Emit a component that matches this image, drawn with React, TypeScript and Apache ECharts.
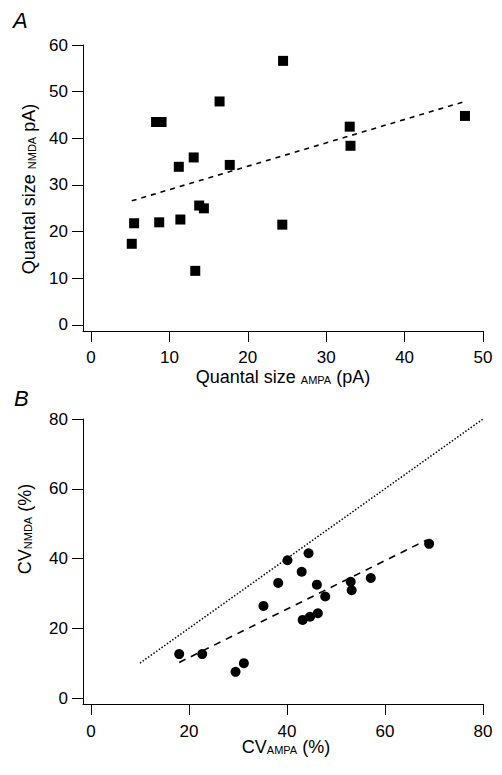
import React, { useEffect, useRef } from 'react';
import * as echarts from 'echarts';

// Panel A: quantal sizes (pA)
const quantalAmpa = [5.2, 5.5, 8.3, 9.0, 8.7, 11.2, 11.4, 13.1, 13.3, 13.8, 14.4, 16.4, 17.7, 24.5, 24.4, 33.0, 33.1, 47.7];
const quantalNmda = [17.4, 21.8, 43.5, 43.5, 22.0, 33.9, 22.6, 35.9, 11.6, 25.6, 25.0, 47.9, 34.3, 56.6, 21.5, 42.5, 38.4, 44.8];
const fitAX = [5.2, 47.5];
const fitAY = [26.6, 47.8];

// Panel B: coefficients of variation (%)
const cvAmpa = [18.0, 22.7, 29.5, 31.2, 35.2, 38.2, 40.1, 43.0, 44.4, 43.2, 44.7, 46.3, 46.1, 47.8, 53.0, 53.2, 57.1, 69.0];
const cvNmda = [12.6, 12.6, 7.5, 10.0, 26.4, 33.0, 39.5, 36.2, 41.5, 22.4, 23.3, 24.3, 32.5, 29.1, 33.3, 30.9, 34.4, 44.2];
const identityX = [10, 80];
const identityY = [10, 80];
const fitBX = [18.0, 68.5];
const fitBY = [10.2, 45.3];

// Tick labels
const ticksAX = [0, 10, 20, 30, 40, 50];
const ticksAY = [0, 10, 20, 30, 40, 50, 60];
const ticksBX = [0, 20, 40, 60, 80];
const ticksBY = [0, 20, 40, 60, 80];

const FONT = 'Liberation Sans, Arial, Helvetica, sans-serif';

const pairs = (xs: number[], ys: number[]) => xs.map((x, i) => [x, ys[i]]);

const makeAxis = (gridIndex: number, min: number, max: number, ticks: number[], margin: number) => ({
  type: 'value',
  gridIndex,
  min,
  max,
  splitLine: { show: false },
  axisLine: { show: true, onZero: false, lineStyle: { color: '#000', width: 1 } },
  axisTick: { show: true, inside: false, length: 11, customValues: ticks, lineStyle: { color: '#000', width: 1 } },
  axisLabel: {
    show: true,
    customValues: ticks,
    margin,
    color: '#000',
    fontFamily: FONT,
    fontSize: 17,
    formatter: (v: number) => String(v),
  },
});

const richStyles = {
  n: { fontSize: 18, lineHeight: 17, fontFamily: FONT, fill: '#000', color: '#000' },
  s: { fontSize: 11, lineHeight: 6, fontFamily: FONT, fill: '#000', color: '#000', verticalAlign: 'bottom' },
};

const titleText = (x: number, y: number, text: string, rotation = 0) => ({
  type: 'text',
  x,
  y,
  rotation,
  style: {
    text,
    rich: richStyles,
    fill: '#000',
    fontFamily: FONT,
    fontSize: 18,
    align: 'center',
    verticalAlign: 'middle',
    textAlign: 'center',
    textVerticalAlign: 'middle',
  },
});

const panelLetter = (x: number, y: number, text: string) => ({
  type: 'text',
  x,
  y,
  style: {
    text,
    fill: '#000',
    font: 'italic 22px ' + FONT,
    align: 'left',
    verticalAlign: 'top',
  },
});

export default function App() {
  const ref = useRef<HTMLDivElement>(null);

  useEffect(() => {
    document.body.style.margin = '0';
    if (!ref.current) return;
    const chart = echarts.init(ref.current, undefined, { renderer: 'svg' });
    chart.setOption({
      animation: false,
      backgroundColor: '#fff',
      grid: [
        { left: 83, top: 45, width: 400, height: 286 },
        { left: 83, top: 419, width: 400, height: 285 },
      ],
      xAxis: [makeAxis(0, -1.02, 50, ticksAX, 18), makeAxis(1, -1.63, 80, ticksBX, 19)],
      yAxis: [makeAxis(0, -1.29, 60, ticksAY, 15), makeAxis(1, -1.72, 80, ticksBY, 15)],
      series: [
        {
          type: 'scatter',
          xAxisIndex: 0,
          yAxisIndex: 0,
          symbol: 'rect',
          symbolSize: 10,
          itemStyle: { color: '#000', opacity: 1 },
          data: pairs(quantalAmpa, quantalNmda),
        },
        {
          type: 'line',
          xAxisIndex: 0,
          yAxisIndex: 0,
          showSymbol: false,
          symbol: 'none',
          lineStyle: { color: '#000', width: 1.6, type: [5, 5] },
          data: pairs(fitAX, fitAY),
        },
        {
          type: 'line',
          xAxisIndex: 1,
          yAxisIndex: 1,
          showSymbol: false,
          symbol: 'none',
          lineStyle: { color: '#000', width: 1.5, type: [1.5, 1.8] },
          data: pairs(identityX, identityY),
        },
        {
          type: 'line',
          xAxisIndex: 1,
          yAxisIndex: 1,
          showSymbol: false,
          symbol: 'none',
          lineStyle: { color: '#000', width: 1.6, type: [7, 6] },
          data: pairs(fitBX, fitBY),
        },
        {
          type: 'scatter',
          xAxisIndex: 1,
          yAxisIndex: 1,
          symbol: 'circle',
          symbolSize: 10,
          itemStyle: { color: '#000', opacity: 1 },
          data: pairs(cvAmpa, cvNmda),
        },
      ],
      graphic: [
        panelLetter(13, 9, 'A'),
        panelLetter(14, 387, 'B'),
        titleText(283, 377, '{n|Quantal size }{s|AMPA}{n| (pA)}'),
        titleText(29, 189, '{n|Quantal size }{s|NMDA}{n| pA)}', Math.PI / 2),
        titleText(286, 747, '{n|CV}{s|AMPA}{n| (%)}'),
        titleText(25, 529, '{n|CV}{s|NMDA}{n| (%)}', Math.PI / 2),
      ],
    });
    return () => chart.dispose();
  }, []);

  return <div ref={ref} style={{ width: 502, height: 775 }} />;
}
